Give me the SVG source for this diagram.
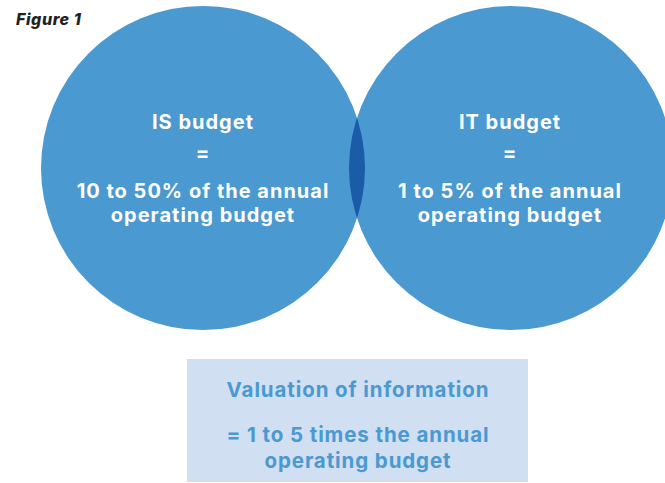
<svg xmlns="http://www.w3.org/2000/svg" width="665" height="483" viewBox="0 0 665 483">
  <style>
    .circle { fill: #4a99d0; }
    .lens { fill: #1a5ca8; }
    .ctext { font-family: Inter, "Open Sans", "Liberation Sans", sans-serif; font-weight: 700; font-size: 20px; letter-spacing: 1px; fill: #ffffff; text-anchor: middle; }
    .btext { font-family: Inter, "Open Sans", "Liberation Sans", sans-serif; font-weight: 700; font-size: 20.5px; letter-spacing: 0.9px; fill: #4a99d0; text-anchor: middle; }
    .title { font-family: Inter, "Open Sans", "Liberation Sans", sans-serif; font-weight: 800; font-style: italic; font-size: 16px; letter-spacing: 0.6px; fill: #222222; }
  </style>
  <defs>
    <clipPath id="leftClip">
      <circle cx="203" cy="168" r="162"/>
    </clipPath>
  </defs>
  <rect width="665" height="483" fill="#ffffff"/>
  <text class="title" x="16" y="25">Figure 1</text>

  <g id="is-budget">
    <circle class="circle" cx="203" cy="168" r="162"/>
    <text class="ctext" x="203" y="129">IS budget</text>
    <text class="ctext" x="203" y="160">=</text>
    <text class="ctext" x="203" y="198">10 to 50% of the annual<tspan x="203" dy="24">operating budget</tspan></text>
  </g>

  <g id="it-budget">
    <circle class="circle" cx="511" cy="168" r="162"/>
    <text class="ctext" x="510" y="129">IT budget</text>
    <text class="ctext" x="510" y="160">=</text>
    <text class="ctext" x="510" y="198">1 to 5% of the annual<tspan x="510" dy="24">operating budget</tspan></text>
  </g>

  <g id="overlap">
    <circle class="lens" cx="511" cy="168" r="162" clip-path="url(#leftClip)"/>
  </g>

  <g id="valuation">
    <rect x="187" y="359" width="341" height="123" fill="#d0dff1"/>
    <text class="btext" x="358" y="397">Valuation of information</text>
    <text class="btext" x="358" y="442">= 1 to 5 times the annual<tspan x="358" dy="26">operating budget</tspan></text>
  </g>
</svg>
